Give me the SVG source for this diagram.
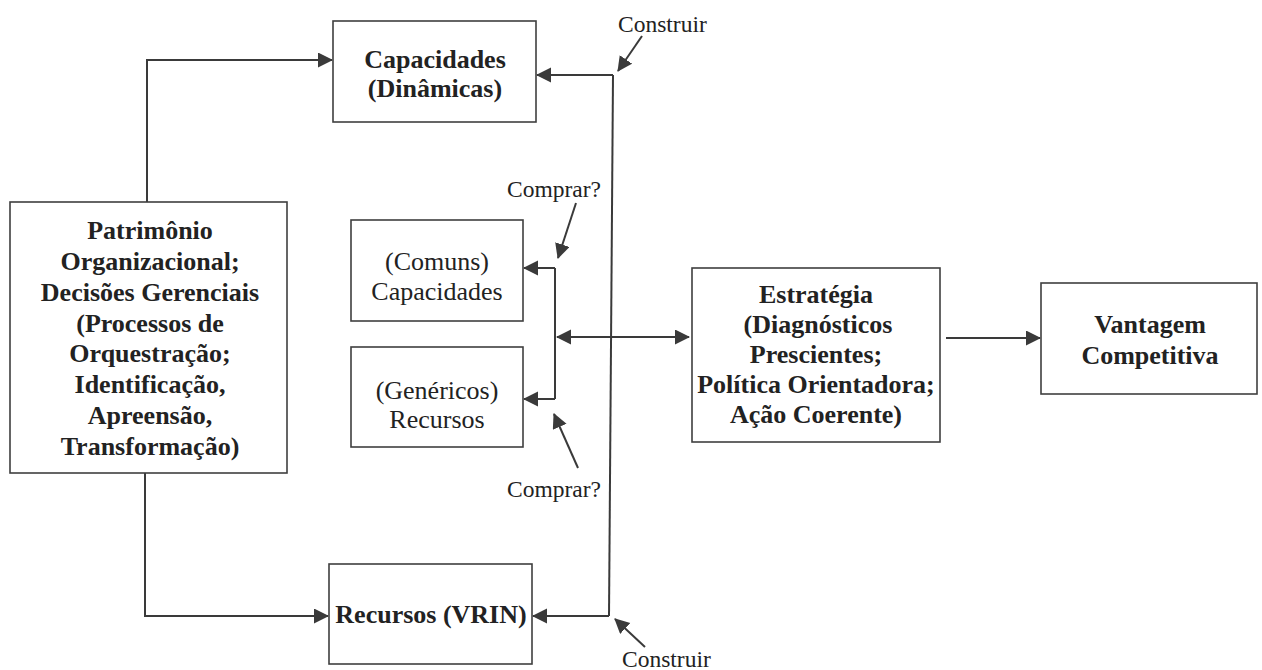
<svg xmlns="http://www.w3.org/2000/svg" width="1262" height="670" viewBox="0 0 1262 670">
  <style>
    .box { fill: #ffffff; stroke: #3f3f3f; stroke-width: 1.6; }
    text { font-family: 'Liberation Serif', 'DejaVu Serif', serif; fill: #222222; }
    .bt { font-size: 26px; font-weight: bold; text-anchor: middle; }
    .rt { font-size: 26px; text-anchor: middle; }
    .lbl { font-size: 23.5px; }
    .conn { fill: none; stroke: #3a3a3a; stroke-width: 2; }
    .arr { marker-end: url(#head); }
  </style>
  <defs>
    <marker id="head" markerUnits="userSpaceOnUse" markerWidth="16" markerHeight="16" refX="14" refY="7.5" orient="auto-start-reverse">
      <path d="M0,0 L15,7.5 L0,15 Z" fill="#3a3a3a"/>
    </marker>
  </defs>

  <rect width="1262" height="670" fill="#ffffff"/>

  <!-- connectors -->
  <g id="connectors">
    <path class="conn arr" d="M147,202 L147,60 L332,60"/>
    <path class="conn arr" d="M145,473 L145,616 L328,616"/>
    <path class="conn" d="M613,75 L609,616"/>
    <path class="conn arr" d="M613,75 L537,75"/>
    <path class="conn arr" d="M609,616 L533,616"/>
    <path class="conn" d="M555,268 L555,399"/>
    <path class="conn arr" d="M555,268 L524,268"/>
    <path class="conn arr" d="M555,399 L524,399"/>
    <path class="conn" d="M557,337 L689,337" marker-start="url(#head)" marker-end="url(#head)"/>
    <path class="conn arr" d="M946,338 L1040,338"/>
    <path class="conn arr" d="M642,36 L618,71"/>
    <path class="conn arr" d="M645,647 L615,619"/>
    <path class="conn arr" d="M576,203 L558,258"/>
    <path class="conn arr" d="M578,468 L554,414"/>
  </g>

  <!-- edge labels -->
  <g id="labels">
    <text class="lbl" x="618" y="32">Construir</text>
    <text class="lbl" x="622" y="667">Construir</text>
    <text class="lbl" x="507" y="197">Comprar?</text>
    <text class="lbl" x="507" y="497">Comprar?</text>
  </g>

  <g id="patrimonio">
    <rect class="box" x="10" y="202" width="277" height="271"/>
    <text class="bt" x="150" y="239">Patrimônio</text>
    <text class="bt" x="150" y="270">Organizacional;</text>
    <text class="bt" x="150" y="301">Decisões Gerenciais</text>
    <text class="bt" x="150" y="332">(Processos de</text>
    <text class="bt" x="150" y="362">Orquestração;</text>
    <text class="bt" x="150" y="393">Identificação,</text>
    <text class="bt" x="150" y="424">Apreensão,</text>
    <text class="bt" x="150" y="455">Transformação)</text>
  </g>

  <g id="capacidades-dinamicas">
    <rect class="box" x="333" y="21" width="203" height="101"/>
    <text class="bt" x="435" y="68">Capacidades</text>
    <text class="bt" x="435" y="97">(Dinâmicas)</text>
  </g>

  <g id="capacidades-comuns">
    <rect class="box" x="351" y="220" width="172" height="101"/>
    <text class="rt" x="437" y="270">(Comuns)</text>
    <text class="rt" x="437" y="300">Capacidades</text>
  </g>

  <g id="recursos-genericos">
    <rect class="box" x="351" y="347" width="172" height="100"/>
    <text class="rt" x="437" y="399">(Genéricos)</text>
    <text class="rt" x="437" y="428">Recursos</text>
  </g>

  <g id="recursos-vrin">
    <rect class="box" x="329" y="564" width="203" height="100"/>
    <text class="bt" x="431" y="623">Recursos (VRIN)</text>
  </g>

  <g id="estrategia">
    <rect class="box" x="692" y="268" width="248" height="174"/>
    <text class="bt" x="816" y="303">Estratégia</text>
    <text class="bt" x="818" y="333">(Diagnósticos</text>
    <text class="bt" x="816" y="363">Prescientes;</text>
    <text class="bt" x="816" y="393">Política Orientadora;</text>
    <text class="bt" x="816" y="423">Ação Coerente)</text>
  </g>

  <g id="vantagem">
    <rect class="box" x="1041" y="283" width="216" height="111"/>
    <text class="bt" x="1150" y="333">Vantagem</text>
    <text class="bt" x="1150" y="364">Competitiva</text>
  </g>
</svg>
